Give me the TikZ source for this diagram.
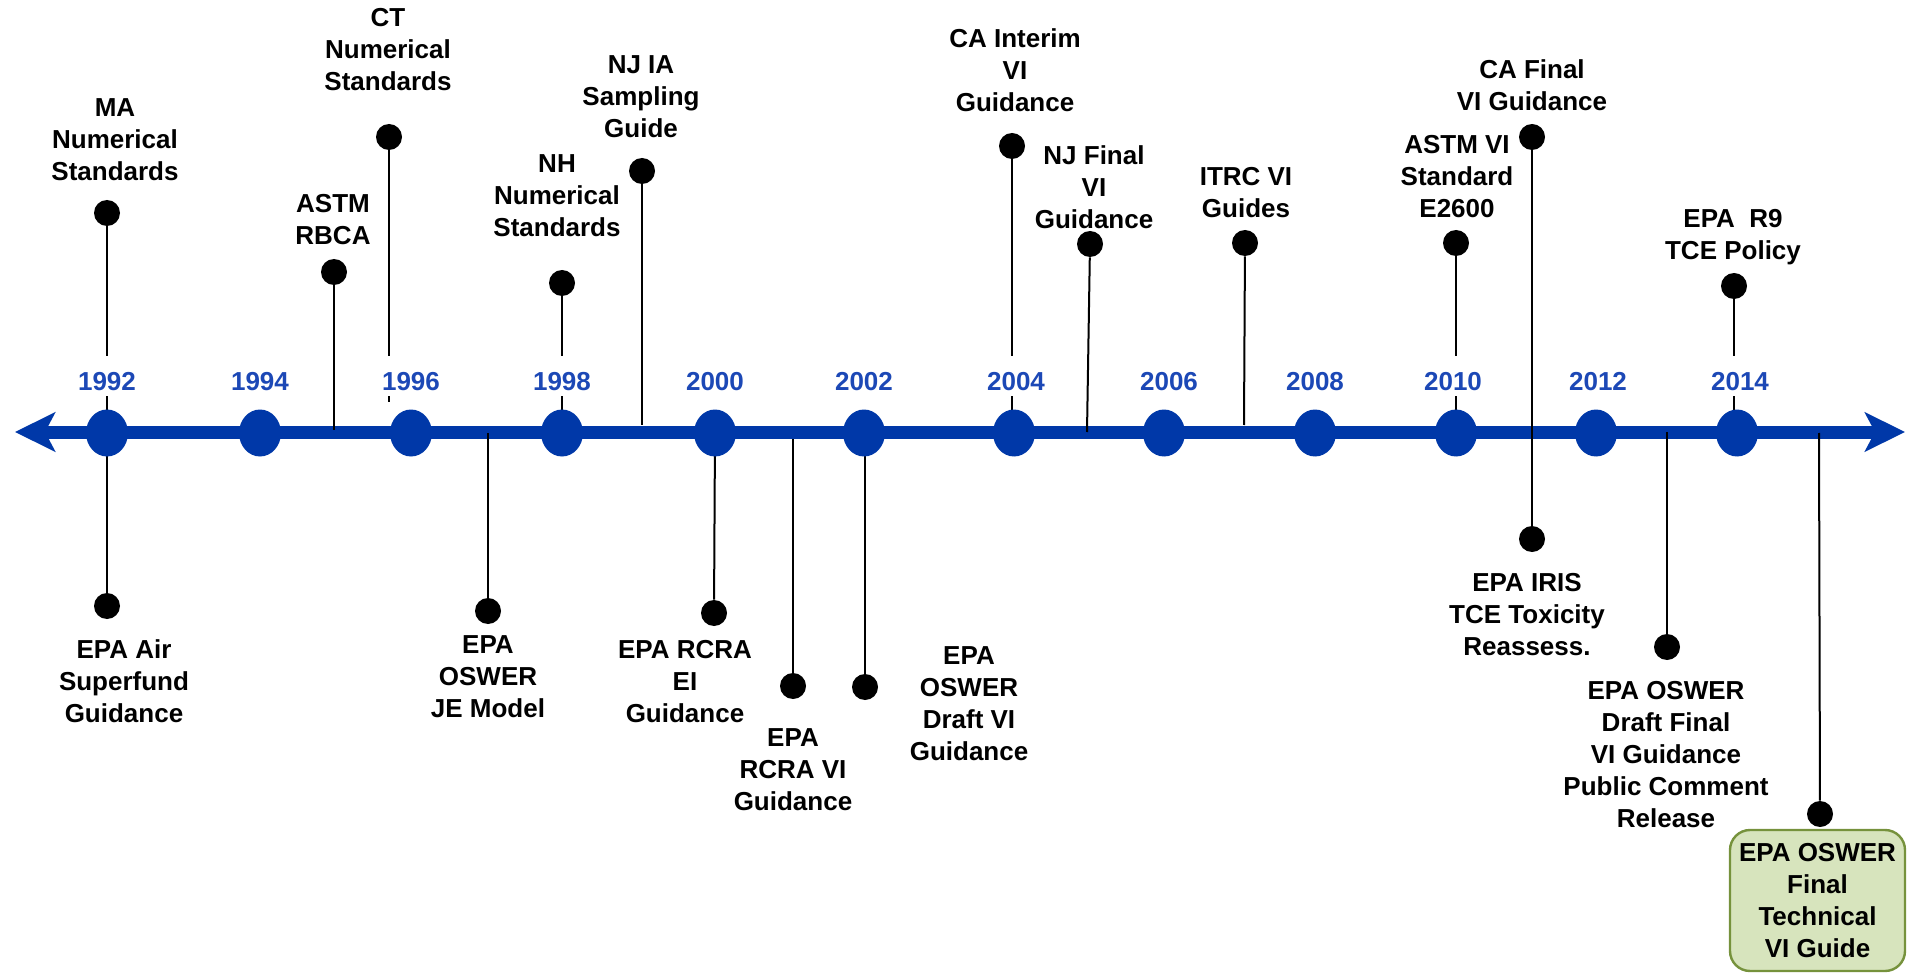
\documentclass[tikz,border=0pt]{standalone}
\usepackage{fontspec}
\setmainfont{Liberation Sans}
\usetikzlibrary{arrows.meta,shapes.geometric}
\definecolor{axisblue}{RGB}{0,56,168}
\definecolor{yearblue}{RGB}{28,72,182}
\definecolor{finalfill}{RGB}{215,228,189}
\definecolor{finaledge}{RGB}{118,146,60}
\tikzset{yeardot/.style={ellipse,fill=axisblue,minimum width=21pt,minimum height=23.5pt,inner sep=0},
    yearlabel/.style={fill=white,text=yearblue,font=\bfseries\fontsize{13}{16}\selectfont,inner xsep=2pt,inner ysep=0,text height=17pt,text depth=3pt,anchor=base},
    eventdot/.style={circle,fill,inner sep=0,minimum size=13pt},
    eventlabel/.style={align=center,font=\bfseries\fontsize{13}{16}\selectfont,inner sep=0},
    stem/.style={line width=1pt},
    axisline/.style={line width=6.5pt,draw=axisblue,arrows={Stealth[length=20pt,width=19.5pt,inset=5pt]-Stealth[length=20pt,width=19.5pt,inset=5pt]}},
    finalbox/.style={draw=finaledge,line width=1.2pt,fill=finalfill,rounded corners=10pt,align=center,font=\bfseries\fontsize{13}{16}\selectfont,minimum width=87.5pt,minimum height=70.5pt,inner sep=0}
}
\newcommand{\yearmarks}[1]
{
% args: (list of year/x of dot/x of label)
    \foreach \yr/\x/\lx in {#1}
    {
        \node (dot\yr) at (\x,433) [yeardot] {};
        \node (year\yr) at (\lx,390) [yearlabel] {\yr};
    }
}

\begin{document}
\begin{tikzpicture}[x=0.5pt,y=-0.5pt]

\useasboundingbox (0,0) rectangle (1907,973);

%% axis
\coordinate (axisW) at (15,432);
\coordinate (axisE) at (1905,432);
\draw [axisline] (axisW) -- (axisE);

%% events above the axis

\node (maDot) at (107,213) [eventdot] {};
\node (maText) at (115,140) [eventlabel] {MA\\Numerical\\Standards};
\coordinate (maAxis) at (107,432);

\node (rbcaDot) at (334,272) [eventdot] {};
\node (rbcaText) at (333,220) [eventlabel] {ASTM\\RBCA};
\coordinate (rbcaAxis) at (334,430);

\node (ctDot) at (389,137) [eventdot] {};
\node (ctText) at (388,50) [eventlabel] {CT\\Numerical\\Standards};
\coordinate (ctAxis) at (389,402);

\node (nhDot) at (562,283) [eventdot] {};
\node (nhText) at (557,196) [eventlabel] {NH\\Numerical\\Standards};
\coordinate (nhAxis) at (562,432);

\node (njiaDot) at (642,171) [eventdot] {};
\node (njiaText) at (641,97) [eventlabel] {NJ IA\\Sampling\\Guide};
\coordinate (njiaAxis) at (642,425);

\node (caiDot) at (1012,146) [eventdot] {};
\node (caiText) at (1015,70) [eventlabel] {CA Interim\\VI\\Guidance};
\coordinate (caiAxis) at (1012,432);

\node (njfDot) at (1090,244) [eventdot] {};
\node (njfText) at (1094,187) [eventlabel] {NJ Final\\VI\\Guidance};
\coordinate (njfAxis) at (1087,432);

\node (itrcDot) at (1245,243) [eventdot] {};
\node (itrcText) at (1246,193) [eventlabel] {ITRC VI\\Guides};
\coordinate (itrcAxis) at (1244,425);

\node (astmDot) at (1456,243) [eventdot] {};
\node (astmText) at (1457,177) [eventlabel] {ASTM VI\\Standard\\E2600};
\coordinate (astmAxis) at (1456,432);

\node (cafDot) at (1532,137) [eventdot] {};
\node (cafText) at (1532,85) [eventlabel] {CA Final\\VI Guidance};
\coordinate (cafAxis) at (1532,432);

\node (rnineDot) at (1734,286) [eventdot] {};
\node (rnineText) at (1733,237) [eventlabel] {EPA\ \ R9\\TCE Policy};
\coordinate (rnineAxis) at (1734,432);

\foreach \ev in {ma,rbca,ct,nh,njia,cai,njf,itrc,astm,caf,rnine}
    \draw [stem] (\ev Dot) -- (\ev Axis);

%% events below the axis

\node (airDot) at (107,606) [eventdot] {};
\node (airText) at (124,681) [eventlabel] {EPA Air\\Superfund\\Guidance};
\coordinate (airAxis) at (107,432);

\node (jeDot) at (488,611) [eventdot] {};
\node (jeText) at (488,677) [eventlabel] {EPA\\OSWER\\JE Model};
\coordinate (jeAxis) at (488,433);

\node (eiDot) at (714,613) [eventdot] {};
\node (eiText) at (685,682) [eventlabel] {EPA RCRA\\EI\\Guidance};
\coordinate (eiAxis) at (715,432);

\node (rcraDot) at (793,686) [eventdot] {};
\node (rcraText) at (793,770) [eventlabel] {EPA\\RCRA VI\\Guidance};
\coordinate (rcraAxis) at (793,439);

\node (draftDot) at (865,687) [eventdot] {};
\node (draftText) at (969,704) [eventlabel] {EPA\\OSWER\\Draft VI\\Guidance};
\coordinate (draftAxis) at (865,432);

\node (irisDot) at (1532,539) [eventdot] {};
\node (irisText) at (1527,615) [eventlabel] {EPA IRIS\\TCE Toxicity\\Reassess.};
\coordinate (irisAxis) at (1532,425);

\node (pubDot) at (1667,647) [eventdot] {};
\node (pubText) at (1666,755) [eventlabel] {EPA OSWER\\Draft Final\\VI Guidance\\Public Comment\\Release};
\coordinate (pubAxis) at (1667,432);

\node (finalDot) at (1820,814) [eventdot] {};
\node (finalText) at (1817.5,900.5) [finalbox] {EPA OSWER\\Final\\Technical\\VI Guide};
\coordinate (finalAxis) at (1819,433);

\foreach \ev in {air,je,ei,rcra,draft,iris,pub,final}
    \draw [stem] (\ev Axis) -- (\ev Dot);

%% years

\yearmarks{1992/107/107,1994/260/260,1996/411/411,1998/562/562,2000/715/715,2002/864/864,2004/1014/1016,2006/1164/1169,2008/1315/1315,2010/1456/1453,2012/1596/1598,2014/1737/1740}

\end{tikzpicture}
\end{document}
